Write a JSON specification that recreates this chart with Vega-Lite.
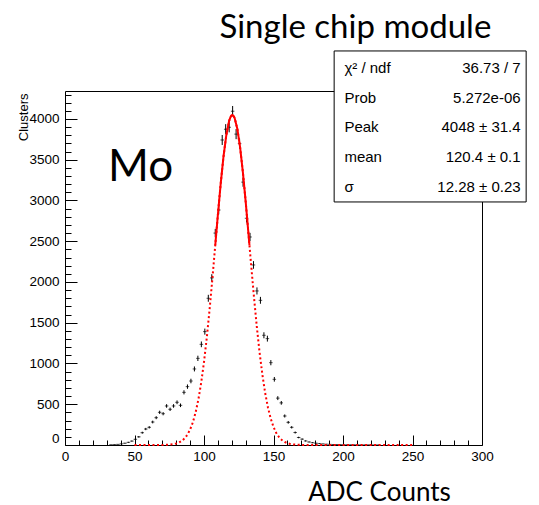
{
  "$schema": "https://vega.github.io/schema/vega-lite/v6.json",
  "width": 417,
  "height": 354,
  "autosize": {"type": "none"},
  "padding": {"left": 65, "top": 91, "right": 57, "bottom": 60},
  "background": "white",
  "config": {
    "view": {"stroke": "black", "strokeWidth": 1},
    "font": "Liberation Sans",
    "axis": {
      "grid": false,
      "domain": false,
      "labelFont": "Liberation Sans",
      "labelFontSize": 13.5,
      "labelColor": "black",
      "tickColor": "black",
      "tickWidth": 1,
      "titleColor": "black",
      "titleFontWeight": "normal"
    }
  },
  "datasets": {
    "hist": [
      {"x": 33.1, "n": 3, "e": 1.7},
      {"x": 35.6, "n": 5, "e": 2.2},
      {"x": 38.1, "n": 8, "e": 2.8},
      {"x": 40.6, "n": 14, "e": 3.7},
      {"x": 43.1, "n": 22, "e": 4.7},
      {"x": 45.6, "n": 33, "e": 5.7},
      {"x": 48.1, "n": 48, "e": 6.9},
      {"x": 50.6, "n": 70, "e": 8.4},
      {"x": 53.1, "n": 100, "e": 10.0},
      {"x": 55.6, "n": 151, "e": 12.3},
      {"x": 58.1, "n": 196, "e": 14.0},
      {"x": 60.6, "n": 217, "e": 14.7},
      {"x": 63.1, "n": 282, "e": 16.8},
      {"x": 65.6, "n": 335, "e": 18.3},
      {"x": 68.1, "n": 401, "e": 20.0},
      {"x": 70.6, "n": 384, "e": 19.6},
      {"x": 73.1, "n": 479, "e": 21.9},
      {"x": 75.6, "n": 438, "e": 20.9},
      {"x": 78.1, "n": 479, "e": 21.9},
      {"x": 80.6, "n": 524, "e": 22.9},
      {"x": 83.1, "n": 487, "e": 22.1},
      {"x": 85.6, "n": 646, "e": 25.4},
      {"x": 88.1, "n": 716, "e": 26.8},
      {"x": 90.6, "n": 785, "e": 28.0},
      {"x": 93.1, "n": 933, "e": 30.5},
      {"x": 95.6, "n": 1063, "e": 32.6},
      {"x": 98.1, "n": 1235, "e": 35.1},
      {"x": 100.6, "n": 1391, "e": 37.3},
      {"x": 103.1, "n": 1800, "e": 42.4},
      {"x": 105.6, "n": 2050, "e": 45.3},
      {"x": 108.1, "n": 2600, "e": 51.0},
      {"x": 110.6, "n": 2883, "e": 53.7},
      {"x": 113.1, "n": 3742, "e": 61.2},
      {"x": 115.6, "n": 3874, "e": 62.2},
      {"x": 118.1, "n": 3898, "e": 62.4},
      {"x": 120.6, "n": 4095, "e": 64.0},
      {"x": 123.1, "n": 3814, "e": 61.8},
      {"x": 125.6, "n": 3697, "e": 60.8},
      {"x": 128.1, "n": 3225, "e": 56.8},
      {"x": 130.6, "n": 2782, "e": 52.7},
      {"x": 133.1, "n": 2552, "e": 50.5},
      {"x": 135.6, "n": 2209, "e": 47.0},
      {"x": 138.1, "n": 1890, "e": 43.5},
      {"x": 140.6, "n": 1775, "e": 42.1},
      {"x": 143.1, "n": 1346, "e": 36.7},
      {"x": 145.6, "n": 1305, "e": 36.1},
      {"x": 148.1, "n": 1010, "e": 31.8},
      {"x": 150.6, "n": 806, "e": 28.4},
      {"x": 153.1, "n": 575, "e": 24.0},
      {"x": 155.6, "n": 517, "e": 22.7},
      {"x": 158.1, "n": 356, "e": 18.9},
      {"x": 160.6, "n": 278, "e": 16.7},
      {"x": 163.1, "n": 217, "e": 14.7},
      {"x": 165.6, "n": 153, "e": 12.4},
      {"x": 168.1, "n": 92, "e": 9.6},
      {"x": 170.6, "n": 72, "e": 8.5},
      {"x": 173.1, "n": 50, "e": 7.1},
      {"x": 175.6, "n": 37, "e": 6.1},
      {"x": 178.1, "n": 28, "e": 5.3},
      {"x": 180.6, "n": 22, "e": 4.7},
      {"x": 183.1, "n": 17, "e": 4.1},
      {"x": 185.6, "n": 13, "e": 3.6},
      {"x": 188.1, "n": 10, "e": 3.2},
      {"x": 190.6, "n": 8, "e": 2.8},
      {"x": 193.1, "n": 6, "e": 2.4},
      {"x": 195.6, "n": 5, "e": 2.2},
      {"x": 198.1, "n": 4, "e": 2.0},
      {"x": 200.6, "n": 3, "e": 1.7},
      {"x": 203.1, "n": 3, "e": 1.7},
      {"x": 205.6, "n": 2, "e": 1.4},
      {"x": 208.1, "n": 2, "e": 1.4},
      {"x": 210.6, "n": 2, "e": 1.4},
      {"x": 213.1, "n": 1, "e": 1.0},
      {"x": 215.6, "n": 1, "e": 1.0},
      {"x": 218.1, "n": 1, "e": 1.0},
      {"x": 220.6, "n": 1, "e": 1.0},
      {"x": 223.1, "n": 1, "e": 1.0},
      {"x": 225.6, "n": 1, "e": 1.0}
    ],
    "fit": [
      {"x": 50, "f": 0},
      {"x": 60, "f": 0.02},
      {"x": 66, "f": 0.2},
      {"x": 70, "f": 0.9},
      {"x": 74, "f": 3.2},
      {"x": 78, "f": 10.4},
      {"x": 80, "f": 18.1},
      {"x": 82, "f": 30.4},
      {"x": 84, "f": 50.0},
      {"x": 86, "f": 80.1},
      {"x": 88, "f": 124.7},
      {"x": 90, "f": 189.0},
      {"x": 92, "f": 279.1},
      {"x": 94, "f": 401.4},
      {"x": 96, "f": 562.3},
      {"x": 98, "f": 766.8},
      {"x": 100, "f": 1018.5},
      {"x": 102, "f": 1317},
      {"x": 104, "f": 1659},
      {"x": 106, "f": 2035},
      {"x": 108, "f": 2431},
      {"x": 108.1, "f": 2451},
      {"x": 110, "f": 2828},
      {"x": 112, "f": 3204},
      {"x": 114, "f": 3534},
      {"x": 116, "f": 3796},
      {"x": 118, "f": 3972},
      {"x": 119, "f": 4022},
      {"x": 120, "f": 4046},
      {"x": 120.4, "f": 4048},
      {"x": 121, "f": 4043},
      {"x": 122, "f": 4014},
      {"x": 124, "f": 3878},
      {"x": 126, "f": 3648},
      {"x": 128, "f": 3342},
      {"x": 130, "f": 2982},
      {"x": 132, "f": 2591},
      {"x": 132.7, "f": 2451},
      {"x": 134, "f": 2192},
      {"x": 136, "f": 1806},
      {"x": 138, "f": 1450},
      {"x": 140, "f": 1133},
      {"x": 142, "f": 862},
      {"x": 144, "f": 639},
      {"x": 146, "f": 461},
      {"x": 148, "f": 324},
      {"x": 150, "f": 221.6},
      {"x": 152, "f": 147.6},
      {"x": 154, "f": 95.9},
      {"x": 156, "f": 60.6},
      {"x": 158, "f": 37.2},
      {"x": 160, "f": 22.3},
      {"x": 162, "f": 13.0},
      {"x": 164, "f": 7.4},
      {"x": 166, "f": 4.1},
      {"x": 170, "f": 1.2},
      {"x": 175, "f": 0.2},
      {"x": 180, "f": 0},
      {"x": 200, "f": 0},
      {"x": 250, "f": 0}
    ]
  },
  "resolve": {"axis": {"x": "independent", "y": "independent"}},
  "layer": [
    {
      "data": {"name": "hist"},
      "mark": {"type": "errorbar", "ticks": false, "color": "black", "thickness": 1},
      "encoding": {
        "x": {
          "field": "x",
          "type": "quantitative",
          "scale": {"domain": [0, 300], "nice": false, "zero": false},
          "axis": {
            "orient": "bottom",
            "values": [0, 50, 100, 150, 200, 250, 300],
            "tickSize": -10,
            "labelPadding": 14,
            "labelFlush": false,
            "title": "ADC Counts",
            "titleFont": "Lato",
            "titleFontSize": 26,
            "titleAlign": "center",
            "titleBaseline": "alphabetic",
            "titleX": 314,
            "titleY": 55
          }
        },
        "y": {
          "field": "n",
          "type": "quantitative",
          "scale": {"domain": [0, 4343], "nice": false},
          "axis": {
            "orient": "left",
            "values": [0, 500, 1000, 1500, 2000, 2500, 3000, 3500, 4000],
            "format": "d",
            "tickSize": -12,
            "labelPadding": 18,
            "labelFlush": true,
            "title": "Clusters",
            "titleFont": "Liberation Sans",
            "titleFontSize": 13,
            "titleAngle": -90,
            "titleAlign": "right",
            "titleBaseline": "alphabetic",
            "titleX": -38,
            "titleY": 2
          }
        },
        "yError": {"field": "e"}
      }
    },
    {
      "data": {"name": "hist"},
      "mark": {"type": "tick", "orient": "horizontal", "size": 3.5, "thickness": 1, "color": "black"},
      "encoding": {
        "x": {
          "field": "x",
          "type": "quantitative",
          "axis": {
            "orient": "bottom",
            "values": [10, 20, 30, 40, 60, 70, 80, 90, 110, 120, 130, 140, 160, 170, 180, 190, 210, 220, 230, 240, 260, 270, 280, 290],
            "tickSize": -5,
            "labels": false,
            "title": null
          }
        },
        "y": {
          "field": "n",
          "type": "quantitative",
          "axis": {
            "orient": "left",
            "values": [100, 200, 300, 400, 600, 700, 800, 900, 1100, 1200, 1300, 1400, 1600, 1700, 1800, 1900, 2100, 2200, 2300, 2400, 2600, 2700, 2800, 2900, 3100, 3200, 3300, 3400, 3600, 3700, 3800, 3900, 4100, 4200, 4300],
            "tickSize": -6,
            "labels": false,
            "title": null
          }
        }
      }
    },
    {
      "data": {"name": "fit"},
      "mark": {"type": "line", "color": "#ff0000", "strokeWidth": 2, "strokeDash": [2, 2.5]},
      "encoding": {
        "x": {"field": "x", "type": "quantitative", "axis": null},
        "y": {"field": "f", "type": "quantitative", "axis": null}
      }
    },
    {
      "data": {"name": "fit"},
      "transform": [{"filter": {"field": "x", "range": [108.1, 132.7]}}],
      "mark": {"type": "line", "color": "#ff0000", "strokeWidth": 2},
      "encoding": {
        "x": {"field": "x", "type": "quantitative", "axis": null},
        "y": {"field": "f", "type": "quantitative", "axis": null}
      }
    },
    {
      "data": {"values": [{}]},
      "mark": {"type": "text", "font": "Lato", "fontSize": 44, "align": "left", "baseline": "alphabetic", "color": "black"},
      "encoding": {
        "x": {"datum": 31, "type": "quantitative", "axis": null},
        "y": {"datum": 3240, "type": "quantitative", "axis": null},
        "text": {"value": "Mo"}
      }
    },
    {
      "data": {"values": [{}]},
      "mark": {"type": "text", "font": "Lato", "fontSize": 33, "align": "center", "baseline": "alphabetic", "color": "black"},
      "encoding": {
        "x": {"datum": 208.9, "type": "quantitative", "axis": null},
        "y": {"datum": 4994, "type": "quantitative", "axis": null},
        "text": {"value": "Single chip module"}
      }
    },
    {
      "data": {"values": [{}]},
      "mark": {
        "type": "point",
        "shape": "M-1.2715,-1H1.2715V1H-1.2715Z",
        "size": 22801,
        "filled": true,
        "fill": "white",
        "fillOpacity": 1,
        "stroke": "black",
        "strokeWidth": 1,
        "opacity": 1
      },
      "encoding": {
        "x": {"datum": 262.7, "type": "quantitative", "axis": null},
        "y": {"datum": 3908, "type": "quantitative", "axis": null}
      }
    },
    {
      "data": {"values": [{}]},
      "mark": {"type": "text", "font": "Liberation Sans", "fontSize": 15, "align": "left", "baseline": "alphabetic", "lineHeight": 29.9, "color": "black"},
      "encoding": {
        "x": {"datum": 201, "type": "quantitative", "axis": null},
        "y": {"datum": 4568, "type": "quantitative", "axis": null},
        "text": {"value": ["χ² / ndf", "Prob", "Peak", "mean", "σ"]}
      }
    },
    {
      "data": {"values": [{}]},
      "mark": {"type": "text", "font": "Liberation Sans", "fontSize": 15, "align": "right", "baseline": "alphabetic", "lineHeight": 29.9, "color": "black"},
      "encoding": {
        "x": {"datum": 327.8, "type": "quantitative", "axis": null},
        "y": {"datum": 4568, "type": "quantitative", "axis": null},
        "text": {"value": ["36.73 / 7", "5.272e-06", "4048 ± 31.4", "120.4 ± 0.1", "12.28 ± 0.23"]}
      }
    }
  ]
}
